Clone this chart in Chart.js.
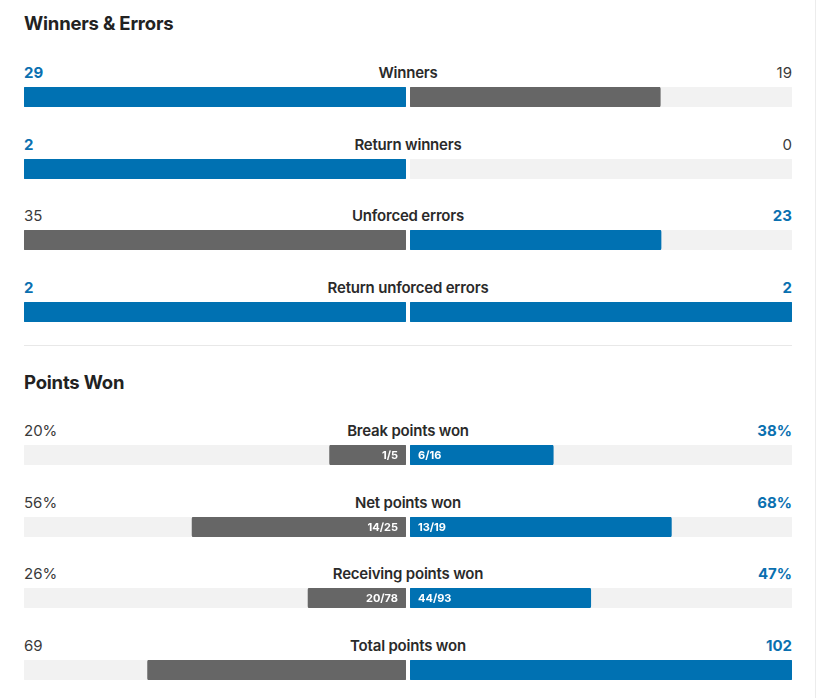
<!DOCTYPE html>
<html>
<head>
<meta charset="utf-8">
<script src="https://cdn.jsdelivr.net/npm/chart.js@4.4.0/dist/chart.umd.min.js"></script>
<style>
    html, body { margin: 0; padding: 0; background: #fff; }
    body { width: 818px; height: 698px; position: relative; overflow: hidden; font-family: Inter, 'Noto Sans', sans-serif; color: #2a2a2a; }
    .edge { position: absolute; left: 815px; top: 0; width: 1px; height: 698px; background: #ececec; }
    .title { position: absolute; left: 24px; font-size: 18.5px; font-weight: 700; letter-spacing: -0.2px; color: #222; }
    .divider { position: absolute; left: 24px; width: 768px; top: 345px; height: 1px; background: #e8e8e8; }
    .val { position: absolute; font-size: 15px; line-height: 18px; color: #3a3a3a; font-weight: 400; }
    .val.hl { color: #0a70b0; font-weight: 700; }
    .lab { position: absolute; left: 208px; width: 400px; text-align: center; font-size: 15px; line-height: 18px; font-weight: 600; color: #2a2a2a; letter-spacing: -0.2px; }
    canvas { position: absolute; }
</style>
</head>
<body>
<div class="edge"></div>
<div class="divider"></div>
<script>
// ---- data ----
const sectionTitles = ['Winners & Errors', 'Points Won'];
const statLabels = [
    'Winners', 'Return winners', 'Unforced errors', 'Return unforced errors',
    'Break points won', 'Net points won', 'Receiving points won', 'Total points won'
];
const statSection = [0, 0, 0, 0, 1, 1, 1, 1];
const leftValues = [29, 2, 35, 2, 20, 56, 26, 69];
const rightValues = [19, 0, 23, 2, 38, 68, 47, 102];
const valueUnits = ['', '', '', '', '%', '%', '%', ''];
const leftFractions = ['', '', '', '', '1/5', '14/25', '20/78', ''];
const rightFractions = ['', '', '', '', '6/16', '13/19', '44/93', ''];
const leftBetter = [true, true, false, true, false, false, false, false];
const rightBetter = [false, false, true, true, true, true, true, true];

const BLUE = '#0071b2';
const GREY = '#666666';
const TRACK = '#f2f2f2';

// exact percentage from a "won/total" string, falling back to the shown value
function barValue(fraction, shown) {
    if (!fraction) return shown;
    const [won, total] = fraction.split('/').map(Number);
    return total > 0 ? (won / total) * 100 : shown;
}

// text inside the bar near the centre line
const fractionPlugin = {
    id: 'fraction',
    afterDatasetsDraw(chart, args, opts) {
        if (!opts.text) return;
        const { ctx, chartArea } = chart;
        ctx.save();
        ctx.fillStyle = '#ffffff';
        ctx.font = '700 11px Inter, sans-serif';
        ctx.textBaseline = 'middle';
        const y = (chartArea.top + chartArea.bottom) / 2 + 0.5;
        if (opts.side === 'left') {
            ctx.textAlign = 'right';
            ctx.fillText(opts.text, chartArea.right - 8, y);
        } else {
            ctx.textAlign = 'left';
            ctx.fillText(opts.text, chartArea.left + 8, y);
        }
        ctx.restore();
    }
};

function makeHalf(x, y, value, scaleMax, color, side, text) {
    const cv = document.createElement('canvas');
    cv.width = 382;
    cv.height = 20;
    cv.style.left = x + 'px';
    cv.style.top = y + 'px';
    document.body.appendChild(cv);

    return new Chart(cv.getContext('2d'), {
        type: 'bar',
        data: {
            labels: [''],
            datasets: [
                {
                    // a zero value draws nothing (no sliver of border)
                    data: [value > 0 ? value : null],
                    backgroundColor: color,
                    borderRadius: 2,
                    borderSkipped: false,
                    barPercentage: 1,
                    categoryPercentage: 1,
                    grouped: false,
                    order: 0
                },
                {
                    data: [scaleMax],
                    backgroundColor: TRACK,
                    borderRadius: 2,
                    borderSkipped: false,
                    barPercentage: 1,
                    categoryPercentage: 1,
                    grouped: false,
                    order: 1
                }
            ]
        },
        options: {
            indexAxis: 'y',
            responsive: false,
            animation: false,
            events: [],
            layout: { padding: 0 },
            scales: {
                x: { display: false, min: 0, max: scaleMax, reverse: side === 'left' },
                y: { display: false }
            },
            plugins: {
                legend: { display: false },
                tooltip: { enabled: false },
                fraction: { text: text, side: side }
            }
        },
        plugins: [fractionPlugin]
    });
}

function addText(cls, text, left, top, align) {
    const d = document.createElement('div');
    d.className = cls;
    d.textContent = text;
    d.style.top = top + 'px';
    if (align === 'right') {
        d.style.right = (818 - left) + 'px';
    } else if (left !== null) {
        d.style.left = left + 'px';
    }
    document.body.appendChild(d);
    return d;
}

// section titles
const titleTops = [12, 371];
sectionTitles.forEach((t, i) => addText('title', t, 24, titleTops[i]));

// rows
const sectionBarStart = [87, 445];
const rowPitch = 71.5;

statLabels.forEach((label, i) => {
    const sec = statSection[i];
    const idxInSec = statSection.slice(0, i).filter(s => s === sec).length;
    const barTop = Math.round(sectionBarStart[sec] + idxInSec * rowPitch);
    const textTop = barTop - 23;

    const isPct = valueUnits[i] === '%';
    const scaleMax = isPct ? 100 : Math.max(leftValues[i], rightValues[i], 1);
    const lv = isPct ? barValue(leftFractions[i], leftValues[i]) : leftValues[i];
    const rv = isPct ? barValue(rightFractions[i], rightValues[i]) : rightValues[i];

    addText('val' + (leftBetter[i] ? ' hl' : ''), leftValues[i] + valueUnits[i], 24, textTop);
    addText('val' + (rightBetter[i] ? ' hl' : ''), rightValues[i] + valueUnits[i], 792, textTop, 'right');
    addText('lab', label, null, textTop);

    makeHalf(24, barTop, lv, scaleMax, leftBetter[i] ? BLUE : GREY, 'left', leftFractions[i]);
    makeHalf(410, barTop, rv, scaleMax, rightBetter[i] ? BLUE : GREY, 'right', rightFractions[i]);
});
</script>
</body>
</html>
